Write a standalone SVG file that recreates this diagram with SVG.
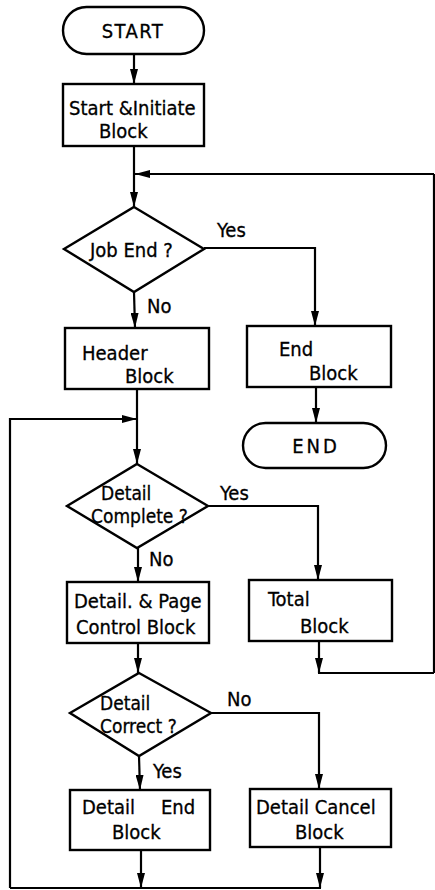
<svg xmlns="http://www.w3.org/2000/svg" width="435" height="890" viewBox="0 0 435 890">
<defs>
<marker id="ah" viewBox="0 0 15 8" refX="15" refY="4" markerWidth="15" markerHeight="8" markerUnits="userSpaceOnUse" orient="auto">
<path d="M0,0 L15,4 L0,8 Z" fill="#000"/>
</marker>
</defs>
<style>
.s{fill:#fff;stroke:#000;stroke-width:2.4}
.c{fill:none;stroke:#000;stroke-width:2.2}
.a{marker-end:url(#ah)}
text{font-family:"DejaVu Sans Condensed","DejaVu Sans","Liberation Sans",sans-serif;font-size:20px;fill:#000;stroke:#000;stroke-width:0.3}
.d{font-size:19px}
.m{text-anchor:middle}
</style>
<rect width="435" height="890" fill="#fff"/>
<g id="connectors">
<line class="c a" x1="134" y1="54" x2="134" y2="84"/>
<line class="c a" x1="134" y1="146" x2="134" y2="207"/>
<line class="c a" x1="434" y1="174" x2="135" y2="174"/>
<line class="c" x1="434" y1="174" x2="434" y2="673"/>
<polyline class="c a" points="204,248 315,248 315,326"/>
<line class="c a" x1="134" y1="292" x2="135" y2="328"/>
<line class="c a" x1="316" y1="387" x2="316" y2="423"/>
<line class="c a" x1="137" y1="389" x2="137" y2="464"/>
<polyline class="c a" points="10,888 10,419 137,419"/>
<polyline class="c a" points="208,506 318,506 318,580"/>
<line class="c a" x1="138" y1="548" x2="138" y2="582"/>
<line class="c a" x1="138" y1="643" x2="138" y2="673"/>
<line class="c a" x1="319" y1="641" x2="319" y2="673"/>
<line class="c" x1="318" y1="673" x2="434" y2="673"/>
<polyline class="c a" points="211,713 319,713 319,789"/>
<line class="c a" x1="139" y1="756" x2="140" y2="790"/>
<line class="c a" x1="141" y1="850" x2="141" y2="888"/>
<line class="c a" x1="320" y1="847" x2="320" y2="888"/>
<line class="c" x1="10" y1="888" x2="321" y2="888"/>
</g>
<g id="start">
<rect class="s" x="63" y="7" width="141" height="47" rx="23.5"/>
<text class="m" x="133" y="38" letter-spacing="1.5">START</text>
</g>
<g id="start-initiate">
<rect class="s" x="63" y="84" width="141" height="62"/>
<text x="69" y="115">Start &amp;Initiate</text>
<text x="99" y="138">Block</text>
</g>
<g id="job-end">
<polygon class="s" points="134,207 204,249 134,292 64,249"/>
<text x="90" y="257">Job End ?</text>
<text x="217" y="237">Yes</text>
<text x="147" y="313">No</text>
</g>
<g id="header">
<rect class="s" x="65" y="328" width="144" height="61"/>
<text x="82" y="360">Header</text>
<text x="125" y="383">Block</text>
</g>
<g id="end-block">
<rect class="s" x="247" y="326" width="144" height="61"/>
<text x="279" y="356">End</text>
<text x="309" y="380">Block</text>
</g>
<g id="end">
<rect class="s" x="243" y="423" width="143" height="45" rx="22.5"/>
<text class="m" x="316" y="453" letter-spacing="3">END</text>
</g>
<g id="detail-complete">
<polygon class="s" points="137,464 208,506 137,548 67,506"/>
<text class="d" x="101" y="500">Detail</text>
<text class="d" x="91" y="523">Complete ?</text>
<text x="220" y="500">Yes</text>
<text x="149" y="566">No</text>
</g>
<g id="detail-page">
<rect class="s" x="67" y="582" width="142" height="61"/>
<text x="74" y="608">Detail. &amp; Page</text>
<text x="76" y="634">Control Block</text>
</g>
<g id="total">
<rect class="s" x="249" y="580" width="143" height="61"/>
<text x="268" y="606">Total</text>
<text x="300" y="633">Block</text>
</g>
<g id="detail-correct">
<polygon class="s" points="139,673 211,713 139,756 70,713"/>
<text class="d" x="100" y="710">Detail</text>
<text class="d" x="100" y="733">Correct ?</text>
<text x="227" y="706">No</text>
<text x="153" y="778">Yes</text>
</g>
<g id="detail-end">
<rect class="s" x="70" y="790" width="140" height="60"/>
<text x="82" y="814">Detail</text>
<text x="161" y="814">End</text>
<text x="112" y="839">Block</text>
</g>
<g id="detail-cancel">
<rect class="s" x="250" y="789" width="141" height="58"/>
<text x="256" y="814">Detail Cancel</text>
<text x="295" y="839">Block</text>
</g>
</svg>
